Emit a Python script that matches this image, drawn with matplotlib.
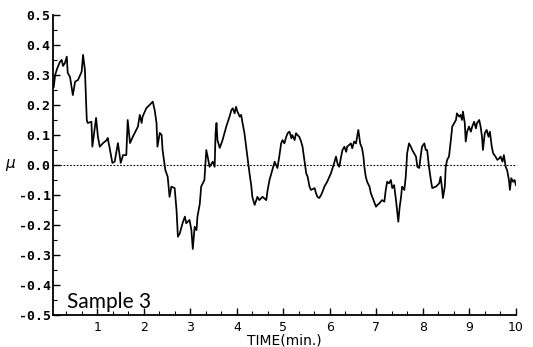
import matplotlib
matplotlib.use("Agg")
import matplotlib.pyplot as plt
from matplotlib.ticker import MultipleLocator, AutoMinorLocator

# friction coefficient trace
time_min = [0.06, 0.09, 0.13, 0.19, 0.23, 0.26, 0.30, 0.34, 0.36, 0.41, 0.47, 0.52, 0.58,
            0.66, 0.69, 0.73, 0.77, 0.79, 0.87, 0.89, 0.97, 1.01, 1.05, 1.12, 1.20, 1.22,
            1.27, 1.32, 1.37, 1.44, 1.50, 1.55, 1.62, 1.65, 1.70, 1.76, 1.87, 1.91, 1.95,
            1.97, 2.05, 2.12, 2.19, 2.23, 2.27, 2.29, 2.34, 2.38, 2.40, 2.46, 2.51, 2.55,
            2.59, 2.66, 2.70, 2.73, 2.77, 2.83, 2.88, 2.91, 2.98, 3.02, 3.05, 3.09, 3.13,
            3.15, 3.20, 3.23, 3.30, 3.34, 3.37, 3.41, 3.48, 3.52, 3.54, 3.56, 3.58, 3.63,
            3.69, 3.77, 3.84, 3.88, 3.91, 3.95, 3.98, 4.01, 4.06, 4.09, 4.12, 4.16, 4.20,
            4.23, 4.27, 4.31, 4.33, 4.38, 4.44, 4.48, 4.55, 4.63, 4.66, 4.70, 4.74, 4.76,
            4.81, 4.87, 4.91, 4.95, 4.98, 5.02, 5.06, 5.09, 5.13, 5.17, 5.19, 5.24, 5.27,
            5.30, 5.34, 5.38, 5.41, 5.45, 5.49, 5.52, 5.56, 5.59, 5.67, 5.70, 5.73, 5.77,
            5.81, 5.84, 5.88, 5.94, 6.02, 6.09, 6.13, 6.16, 6.20, 6.24, 6.27, 6.31, 6.35,
            6.37, 6.45, 6.48, 6.52, 6.56, 6.59, 6.61, 6.65, 6.69, 6.72, 6.74, 6.77, 6.80,
            6.85, 6.88, 6.91, 6.95, 6.99, 7.02, 7.06, 7.12, 7.17, 7.20, 7.23, 7.27, 7.31,
            7.34, 7.38, 7.42, 7.45, 7.47, 7.50, 7.53, 7.55, 7.60, 7.63, 7.66, 7.70, 7.74,
            7.77, 7.81, 7.85, 7.88, 7.92, 7.95, 7.98, 8.03, 8.06, 8.09, 8.13, 8.17, 8.20,
            8.28, 8.35, 8.38, 8.41, 8.43, 8.47, 8.49, 8.52, 8.56, 8.60, 8.63, 8.67, 8.71,
            8.73, 8.78, 8.81, 8.84, 8.86, 8.90, 8.92, 8.95, 8.99, 9.03, 9.06, 9.10, 9.14,
            9.16, 9.21, 9.24, 9.27, 9.29, 9.33, 9.37, 9.41, 9.44, 9.48, 9.51, 9.56, 9.60,
            9.64, 9.67, 9.71, 9.74, 9.78, 9.81, 9.85, 9.87, 9.90, 9.94, 9.97, 10.00]
mu = [0.26, 0.30, 0.32, 0.343, 0.35, 0.33, 0.34, 0.361, 0.307, 0.293, 0.233, 0.278, 0.283,
      0.311, 0.367, 0.317, 0.15, 0.14, 0.144, 0.061, 0.157, 0.094, 0.061, 0.073, 0.083, 0.09,
      0.05, 0.007, 0.011, 0.073, 0.007, 0.033, 0.033, 0.15, 0.073, 0.094, 0.128, 0.167, 0.14,
      0.161, 0.189, 0.2, 0.211, 0.183, 0.14, 0.061, 0.107, 0.1, 0.05, -0.017, -0.039, -0.106,
      -0.072, -0.077, -0.15, -0.239, -0.228, -0.194, -0.172, -0.194, -0.183, -0.217, -0.28, -0.206, -0.217,
      -0.172, -0.13, -0.072, -0.05, 0.05, 0.028, -0.006, 0.011, -0.006, 0.107, 0.14, 0.083, 0.057,
      0.083, 0.128, 0.161, 0.183, 0.189, 0.172, 0.194, 0.178, 0.161, 0.167, 0.14, 0.107, 0.057,
      0.017, -0.028, -0.072, -0.106, -0.133, -0.106, -0.117, -0.106, -0.117, -0.083, -0.05, -0.028, -0.017,
      0.011, -0.01, 0.028, 0.072, 0.083, 0.072, 0.094, 0.106, 0.111, 0.089, 0.1, 0.083, 0.106,
      0.1, 0.094, 0.078, 0.061, 0.017, -0.028, -0.039, -0.072, -0.083, -0.077, -0.094, -0.106, -0.11,
      -0.1, -0.089, -0.072, -0.056, -0.028, 0.006, 0.028, 0.006, -0.006, 0.028, 0.05, 0.061, 0.044,
      0.061, 0.072, 0.056, 0.078, 0.072, 0.1, 0.117, 0.072, 0.056, 0.028, -0.006, -0.039, -0.056,
      -0.072, -0.094, -0.106, -0.122, -0.139, -0.133, -0.128, -0.117, -0.122, -0.083, -0.056, -0.061, -0.05,
      -0.077, -0.067, -0.117, -0.161, -0.189, -0.139, -0.106, -0.072, -0.083, -0.039, 0.039, 0.072, 0.061,
      0.05, 0.039, 0.028, -0.006, -0.01, 0.028, 0.061, 0.072, 0.05, 0.05, -0.006, -0.05, -0.077,
      -0.072, -0.061, -0.039, -0.077, -0.11, -0.072, -0.006, 0.017, 0.028, 0.083, 0.128, 0.139, 0.15,
      0.172, 0.161, 0.167, 0.15, 0.178, 0.139, 0.078, 0.111, 0.128, 0.111, 0.128, 0.144, 0.122,
      0.139, 0.15, 0.128, 0.094, 0.05, 0.106, 0.117, 0.094, 0.111, 0.061, 0.039, 0.028, 0.017,
      0.022, 0.028, 0.011, 0.033, -0.006, -0.017, -0.05, -0.083, -0.044, -0.056, -0.05, -0.067]

fig = plt.figure(figsize=(5.33, 3.47), dpi=100)
ax = fig.add_axes([0.100, 0.092, 0.868, 0.865])

ax.plot(time_min, mu, color='black', lw=1.25)
ax.plot([0.05, 10.0], [0, 0], color='black', lw=0.8, ls=(0, (1.5, 1.5)))

ax.set_xlim(0.05, 10.0)
ax.set_ylim(-0.5, 0.5)
ax.spines['top'].set_visible(False)
ax.spines['right'].set_visible(False)
for s in ('left', 'bottom'):
    ax.spines[s].set_linewidth(1.3)

ax.xaxis.set_major_locator(MultipleLocator(1))
ax.xaxis.set_minor_locator(AutoMinorLocator(3))
ax.yaxis.set_major_locator(MultipleLocator(0.1))
ax.yaxis.set_minor_locator(AutoMinorLocator(2))
ax.tick_params(which='major', direction='in', length=5, width=1.0)
ax.tick_params(which='minor', direction='in', length=3, width=0.8)
ax.tick_params(axis='x', pad=4)
ax.tick_params(axis='y', pad=2)
ax.set_xticks(range(1, 11))
ax.set_xticklabels([str(i) for i in range(1, 11)], fontsize=9)
yt = [-0.5, -0.4, -0.3, -0.2, -0.1, 0.0, 0.1, 0.2, 0.3, 0.4, 0.5]
ax.set_yticks(yt)
ax.set_yticklabels(['%.1f' % v for v in yt], family='DejaVu Sans Mono',
                   fontweight='bold', fontsize=9.5)

ax.set_xlabel('TIME(min.)', fontsize=10, labelpad=0)
ax.text(-0.092, 0.5, r'$\mu$', transform=ax.transAxes, fontsize=11,
        ha='center', va='center')
ax.text(0.03, 0.023, 'Sample 3', transform=ax.transAxes, fontsize=15,
        family='Lato')

fig.savefig('out.png', dpi=100)
